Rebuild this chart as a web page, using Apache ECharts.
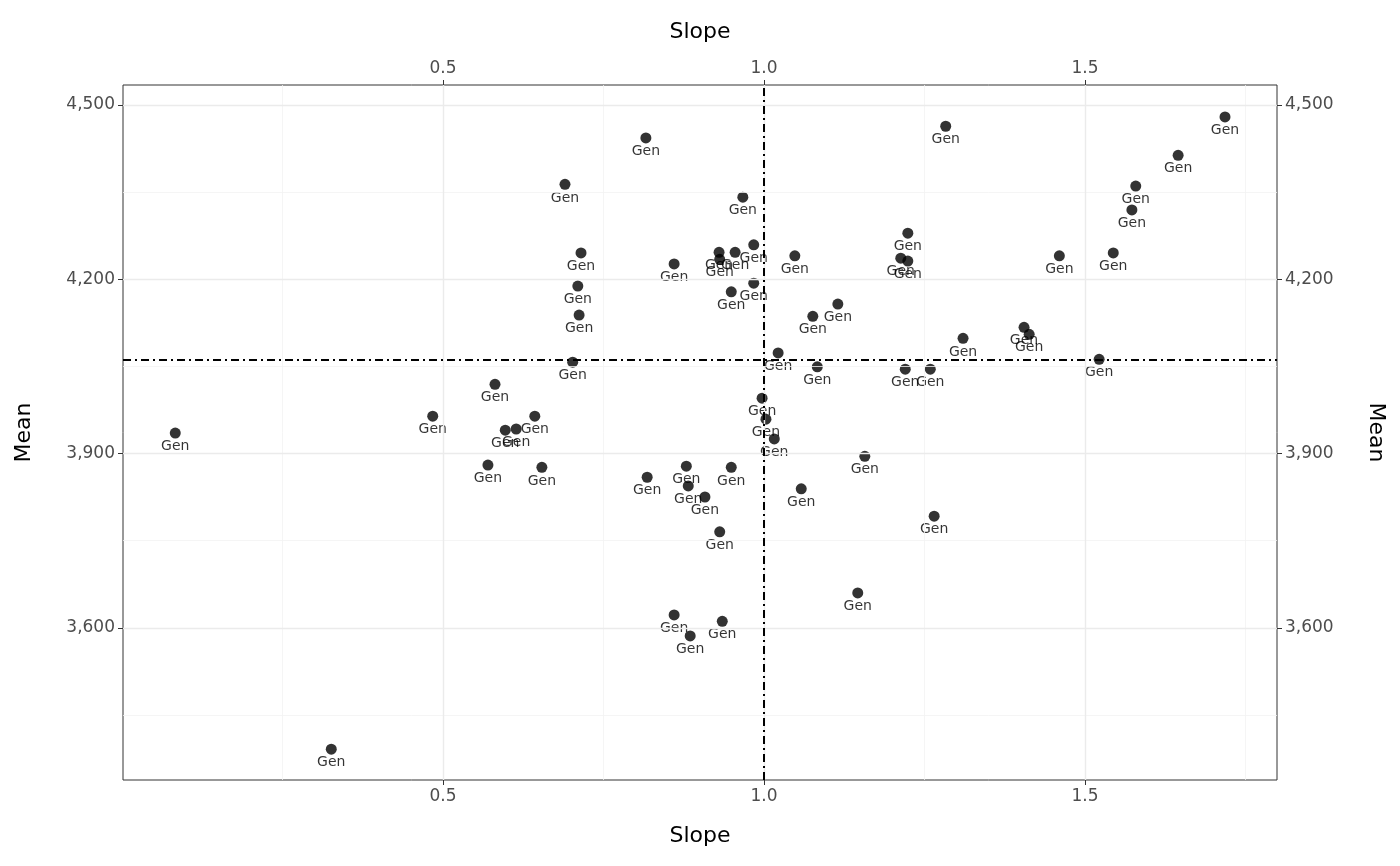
<!DOCTYPE html>
<html>
<head>
<meta charset="utf-8">
<script src="https://cdn.jsdelivr.net/npm/echarts@6/dist/echarts.min.js"></script>
<style>html,body{margin:0;padding:0;background:#fff}#chart{width:1400px;height:866px}</style>
</head>
<body>
<div id="chart"></div>
<script>
// slope / mean per genotype
const slope = [0.083,0.326,0.484,0.570,0.581,0.597,0.614,0.643,0.654,0.690,0.702,0.710,0.712,0.715,0.816,0.818,0.860,0.860,0.879,0.882,0.885,0.908,0.930,0.931,0.931,0.935,0.949,0.949,0.955,0.967,0.984,0.984,0.997,1.003,1.016,1.022,1.048,1.058,1.076,1.083,1.115,1.146,1.157,1.213,1.220,1.224,1.224,1.259,1.265,1.283,1.310,1.405,1.413,1.460,1.522,1.544,1.573,1.579,1.645,1.718];
const mean = [3935,3391,3964,3880,4019,3940,3942,3964,3876,4363,4057,4188,4138,4245,4443,3859,4226,3622,3878,3844,3586,3825,4246,4234,3765,3611,4178,3876,4246,4341,4259,4193,3995,3959,3925,4073,4240,3839,4136,4049,4157,3660,3895,4236,4045,4279,4231,4045,3792,4463,4098,4117,4105,4240,4062,4245,4319,4360,4413,4479];
const labels = slope.map(() => 'Gen');
const xTicks = [0.5, 1.0, 1.5];
const xMinor = [0.25, 0.75, 1.25, 1.75];
const yTicks = [3600, 3900, 4200, 4500];
const yMinor = [3450, 3750, 4050, 4350];
const refSlope = 1.0;
const refMean = 4060.6;

const X_MIN = 0.0016, X_MAX = 1.799, Y_MIN = 3338, Y_MAX = 4534;
const FONT = 'DejaVu Sans';

const chart = echarts.init(document.getElementById('chart'));

function xAxis(pos) {
    return {
        type: 'value', position: pos, min: X_MIN, max: X_MAX,
        name: 'Slope', nameLocation: 'middle', nameGap: pos === 'top' ? 42 : 45,
        nameTextStyle: { fontFamily: FONT, fontSize: 22, color: '#000' },
        axisLine: { show: false },
        axisTick: { show: true, customValues: xTicks, length: 5, lineStyle: { color: '#333' } },
        axisLabel: { customValues: xTicks, formatter: v => v.toFixed(1), fontFamily: FONT, fontSize: 17, color: '#4d4d4d', margin: 8 },
        splitLine: { show: false }
    };
}
function yAxis(pos) {
    return {
        type: 'value', position: pos, min: Y_MIN, max: Y_MAX,
        name: 'Mean', nameLocation: 'middle', nameGap: 88,
        nameRotate: pos === 'right' ? -90 : 90,
        nameTextStyle: { fontFamily: FONT, fontSize: 22, color: '#000' },
        axisLine: { show: false },
        axisTick: { show: true, customValues: yTicks, length: 5, lineStyle: { color: '#333' } },
        axisLabel: { customValues: yTicks, formatter: v => v.toLocaleString('en-US'), fontFamily: FONT, fontSize: 17, color: '#4d4d4d', margin: 8 },
        splitLine: { show: false }
    };
}
const major = { color: '#ebebeb', width: 1.4, type: 'solid' };
const minor = { color: '#f2f2f2', width: 0.8, type: 'solid' };
const gridLines = [].concat(
    xMinor.map(v => ({ xAxis: v, lineStyle: minor })),
    yMinor.map(v => ({ yAxis: v, lineStyle: minor })),
    xTicks.map(v => ({ xAxis: v, lineStyle: major })),
    yTicks.map(v => ({ yAxis: v, lineStyle: major }))
);
const dashDot = { color: '#000', width: 2, type: [8, 4, 2, 4] };

chart.setOption({
    backgroundColor: '#fff',
    animation: false,
    grid: { left: 123, right: 123, top: 85, bottom: 86, show: true, borderColor: '#333', borderWidth: 1 },
    xAxis: [xAxis('bottom'), xAxis('top')],
    yAxis: [yAxis('left'), yAxis('right')],
    series: [
        {
            type: 'scatter', silent: true, data: [],
            markLine: { silent: true, symbol: 'none', label: { show: false }, data: gridLines }
        },
        {
            type: 'scatter', silent: true, data: [],
            markLine: { silent: true, symbol: 'none', label: { show: false },
                data: [{ xAxis: refSlope, lineStyle: dashDot }, { yAxis: refMean, lineStyle: dashDot }] }
        },
        {
            type: 'scatter', symbolSize: 11, itemStyle: { color: '#000' },
            data: slope.map((s, i) => [s, mean[i], labels[i]]),
            label: { show: true, position: 'bottom', distance: 1, formatter: p => p.value[2],
                fontFamily: FONT, fontSize: 14, color: '#000' },
            labelLayout: { hideOverlap: false }
        }
    ]
});
</script>
</body>
</html>
